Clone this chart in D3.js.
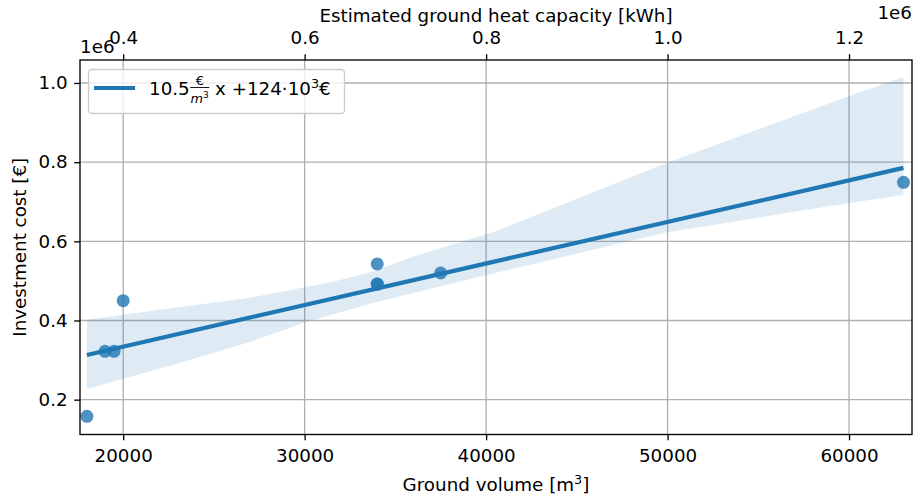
<!DOCTYPE html>
<html lang="en">
<head>
<meta charset="utf-8">
<title>Investment cost vs ground volume</title>
<script src="https://cdn.jsdelivr.net/npm/d3@7"></script>
<style>
    body { margin: 0; background: #fff; }
    svg { display: block; font-family: "DejaVu Sans", sans-serif; }
</style>
</head>
<body>
<svg id="chart"></svg>
<script>
    // measured points
    const volume = [18000, 19000, 19500, 20000, 34000, 34000, 34000, 37500, 63000];
    const cost = [158000, 322000, 322000, 450000, 543000, 492000, 492000, 520000, 749000];

    // regression line ends
    const fitX = [18000, 63000];
    const fitY = [313000, 785500];

    // confidence band
    const upperX = [18000, 21300, 26800, 31570, 33760, 35950, 40500, 49910, 59900, 63000];
    const upperY = [402000, 423000, 456000, 498000, 524000, 561000, 625000, 797000, 965000, 1015000];
    const lowerX = [18000, 23140, 26800, 30110, 33770, 37440, 40500, 49910, 59900, 63000];
    const lowerY = [227000, 293000, 343000, 397000, 444000, 486000, 520000, 622000, 696000, 717000];

    const xTicks = [20000, 30000, 40000, 50000, 60000];
    const yTicks = [200000, 400000, 600000, 800000, 1000000];
    const topTicks = [400000, 600000, 800000, 1000000, 1200000];
    const kWhPerM3 = 20;

    const svgSize = {width: 913, height: 497};
    const margin = {top: 60, right: 1, bottom: 62.5, left: 80};
    const w = svgSize.width - margin.left - margin.right;
    const h = svgSize.height - margin.top - margin.bottom;
    const blue = "#1f77b4";
    const fs = "18.3px";
    const fsSmall = "12.8px";

    const svg = d3.select("#chart").attr("width", svgSize.width).attr("height", svgSize.height);
    const g = svg.append("g").attr("transform", `translate(${margin.left},${margin.top})`);

    const x = d3.scaleLinear().domain([17620, 63470]).range([0, w]);
    const y = d3.scaleLinear().domain([112000, 1058000]).range([h, 0]);
    const xTop = d3.scaleLinear().domain(x.domain().map(d => d * kWhPerM3)).range([0, w]);

    // grid
    g.append("g").selectAll("line").data(xTicks).join("line")
        .attr("x1", d => x(d)).attr("x2", d => x(d)).attr("y1", 0).attr("y2", h)
        .attr("stroke", "#b0b0b0").attr("stroke-width", 1.33);
    g.append("g").selectAll("line").data(yTicks).join("line")
        .attr("y1", d => y(d)).attr("y2", d => y(d)).attr("x1", 0).attr("x2", w)
        .attr("stroke", "#b0b0b0").attr("stroke-width", 1.33);

    // band
    const bandPts = upperX.map((v, i) => [v, upperY[i]])
        .concat(lowerX.map((v, i) => [v, lowerY[i]]).reverse());
    g.append("path")
        .attr("d", d3.line().x(d => x(d[0])).y(d => y(d[1]))(bandPts) + "Z")
        .attr("fill", blue).attr("fill-opacity", 0.15);

    // scatter
    g.append("g").selectAll("circle").data(volume.map((v, i) => [v, cost[i]])).join("circle")
        .attr("cx", d => x(d[0])).attr("cy", d => y(d[1])).attr("r", 6.5)
        .attr("fill", blue).attr("fill-opacity", 0.8);

    // fit line
    g.append("path")
        .attr("d", d3.line().x(d => x(d[0])).y(d => y(d[1]))(fitX.map((v, i) => [v, fitY[i]])))
        .attr("fill", "none").attr("stroke", blue).attr("stroke-width", 4.2);

    // axes
    const styleAxis = sel => {
        sel.select(".domain").remove();
        sel.selectAll(".tick line").attr("stroke", "#000").attr("stroke-width", 1.33);
        sel.selectAll(".tick text").attr("font-size", fs).attr("font-family", "DejaVu Sans").attr("fill", "#000");
    };
    g.append("g").attr("transform", `translate(0,${h})`)
        .call(d3.axisBottom(x).tickValues(xTicks).tickFormat(d3.format("d")).tickSize(5.8).tickPadding(9))
        .call(styleAxis);
    g.append("g")
        .call(d3.axisLeft(y).tickValues(yTicks).tickFormat(d => (d / 1e6).toFixed(1)).tickSize(5.8).tickPadding(6.6))
        .call(styleAxis);
    g.append("g")
        .call(d3.axisTop(xTop).tickValues(topTicks).tickFormat(d => (d / 1e6).toFixed(1)).tickSize(5.8).tickPadding(10.5))
        .call(styleAxis);

    // frame
    g.append("rect").attr("width", w).attr("height", h)
        .attr("fill", "none").attr("stroke", "#000").attr("stroke-width", 1.33);

    // labels
    const xl = svg.append("text").attr("x", margin.left + w / 2).attr("y", 491)
        .attr("text-anchor", "middle").attr("font-size", fs).text("Ground volume [m");
    xl.append("tspan").attr("font-size", fsSmall).attr("dy", -7.5).text("3");
    xl.append("tspan").attr("dy", 7.5).text("]");
    svg.append("text").attr("x", margin.left + w / 2).attr("y", 22)
        .attr("text-anchor", "middle").attr("font-size", fs)
        .text("Estimated ground heat capacity [kWh]");
    svg.append("text")
        .attr("transform", `translate(26,${margin.top + h / 2}) rotate(-90)`)
        .attr("text-anchor", "middle").attr("font-size", fs)
        .text("Investment cost [€]");
    svg.append("text").attr("x", 912).attr("y", 19).attr("text-anchor", "end").attr("font-size", fs).text("1e6");
    svg.append("text").attr("x", 80).attr("y", 53).attr("font-size", fs).text("1e6");

    // legend
    const leg = svg.append("g");
    leg.append("rect").attr("x", 88.5).attr("y", 69.5).attr("width", 256).attr("height", 44).attr("rx", 3.5)
        .attr("fill", "#fff").attr("fill-opacity", 0.8).attr("stroke", "#cccccc").attr("stroke-width", 1.33);
    leg.append("line").attr("x1", 94).attr("x2", 135).attr("y1", 88).attr("y2", 88)
        .attr("stroke", blue).attr("stroke-width", 4.2);
    const t1 = leg.append("text").attr("x", 149).attr("y", 95).attr("font-size", fs).text("10.5");
    let cx = 149 + t1.node().getComputedTextLength() + 0.5;
    const fracW = 19;
    leg.append("text").attr("x", cx + fracW / 2).attr("y", 85).attr("text-anchor", "middle")
        .attr("font-size", fsSmall).text("€");
    leg.append("line").attr("x1", cx).attr("x2", cx + fracW).attr("y1", 87.5).attr("y2", 87.5)
        .attr("stroke", "#000").attr("stroke-width", 0.9);
    const den = leg.append("text").attr("x", cx + fracW / 2).attr("y", 102.5).attr("text-anchor", "middle")
        .attr("font-size", fsSmall).attr("font-style", "italic").text("m");
    den.append("tspan").attr("font-size", "9px").attr("font-style", "normal").attr("dy", -5).text("3");
    cx += fracW;
    const t2 = leg.append("text").attr("x", cx).attr("y", 95).attr("font-size", fs).attr("xml:space", "preserve")
        .text(" x +124·10");
    t2.append("tspan").attr("font-size", fsSmall).attr("dy", -7.5).text("3");
    t2.append("tspan").attr("dy", 7.5).text("€");
</script>
</body>
</html>
